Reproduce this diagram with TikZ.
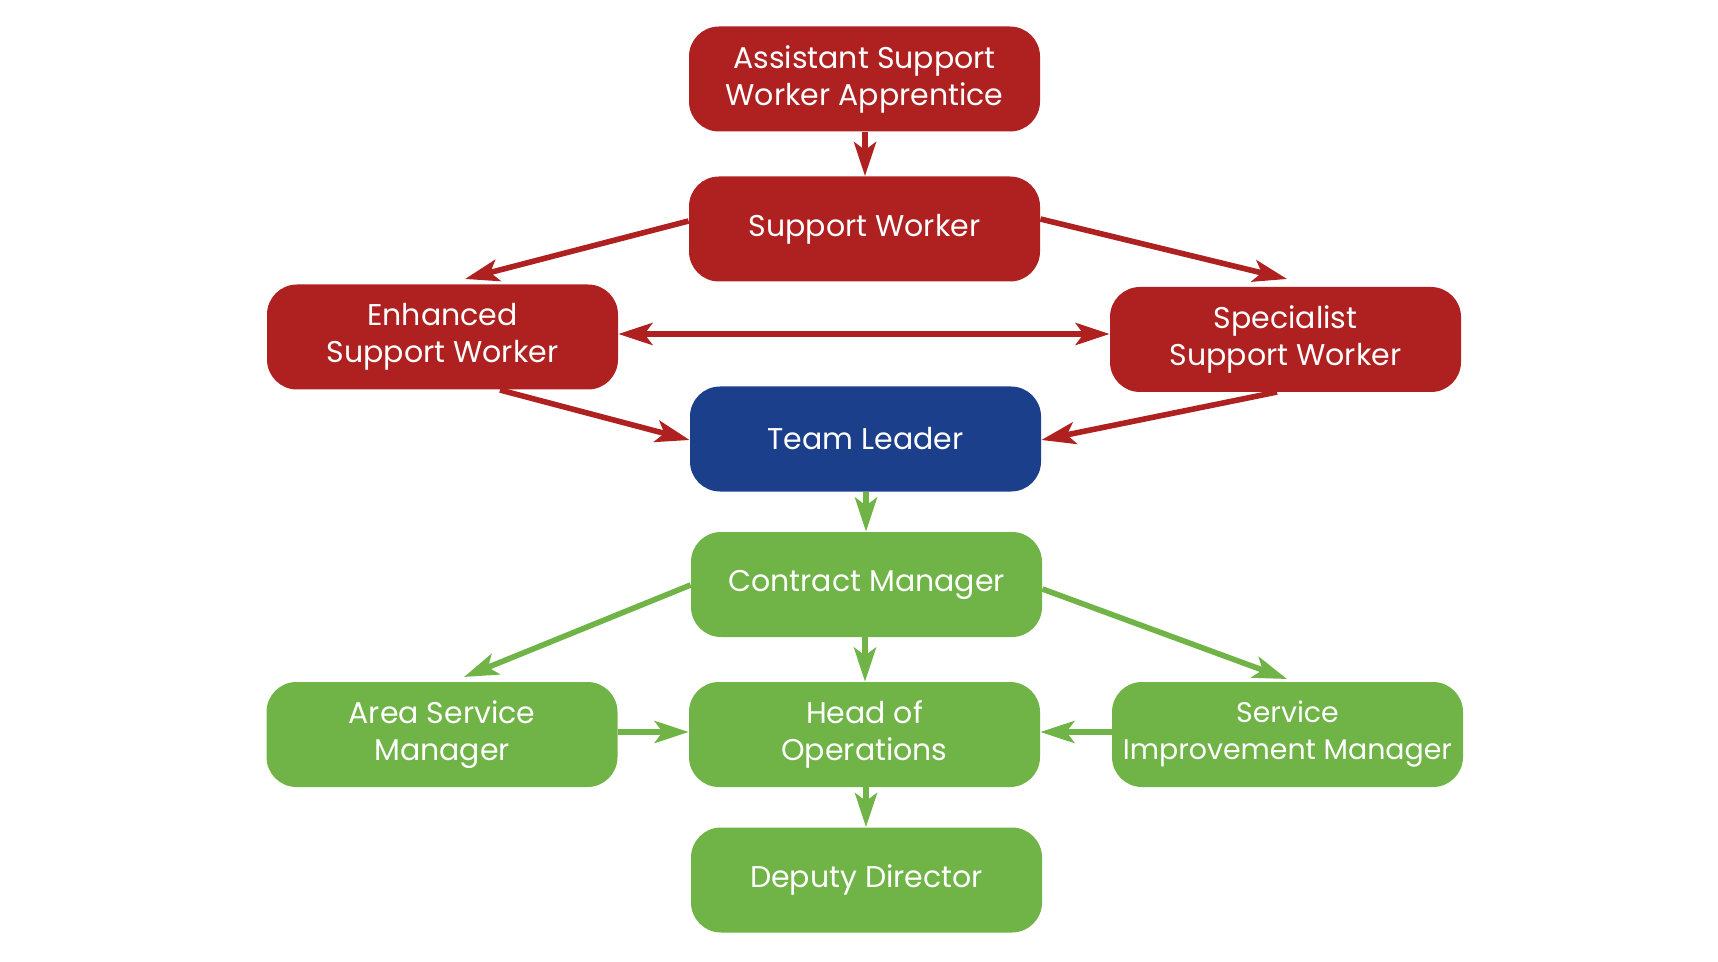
\documentclass[tikz,border=0pt]{standalone}
\usepackage{fontspec}
\setmainfont{Poppins}
\usetikzlibrary{arrows.meta}
\definecolor{cred}{RGB}{175,33,33}
\definecolor{cblue}{RGB}{27,63,139}
\definecolor{cgreen}{RGB}{112,179,71}
\tikzset{
  box/.style={rectangle, rounded corners=15pt, minimum width=175.5pt, minimum height=52.5pt,
    inner sep=0pt, align=center, text=white, font=\fontsize{15}{18.5}\selectfont},
  redbox/.style={box, fill=cred},
  bluebox/.style={box, fill=cblue},
  greenbox/.style={box, fill=cgreen},
  conn/.style={line width=2.8pt, -{Stealth[length=17pt, width=11pt, inset=4pt]}},
  rconn/.style={conn, draw=cred, fill=cred},
  gconn/.style={conn, draw=cgreen, fill=cgreen},
}
\begin{document}
\begin{tikzpicture}[x=0.5pt, y=-0.5pt]
\useasboundingbox (0,0) rectangle (1718,962);
\node[redbox] (aswa) at (864.5,79) {Assistant Support\\Worker Apprentice};
\node[redbox] (sw) at (864.5,229) {Support Worker};
\node[redbox] (esw) at (442.5,337) {Enhanced\\Support Worker};
\node[redbox] (ssw) at (1285.5,339.5) {Specialist\\Support Worker};
\node[bluebox] (tl) at (865.5,439) {Team Leader};
\node[greenbox] (cm) at (866.5,584.5) {Contract Manager};
\node[greenbox] (ho) at (864.5,734.5) {Head of\\Operations};
\node[greenbox] (asm) at (442,734.5) {Area Service\\Manager};
\node[greenbox, font=\fontsize{14.2}{18.5}\selectfont] (sim) at (1287.5,734.5) {Service\\Improvement Manager};
\node[greenbox] (dd) at (866.5,880) {Deputy Director};

\coordinate (eswtop) at (465,279);
\coordinate (sswtop) at (1287,279);
\coordinate (asmtop) at (464,677);
\coordinate (simtop) at (1287,679);

\draw[rconn] (aswa.south -| 865,0) -- (sw.north -| 865,0);
\draw[rconn] (sw.west |- 0,221) -- (eswtop);
\draw[rconn] (sw.east |- 0,219) -- (sswtop);
\draw[draw=cred, line width=2.8pt, {Stealth[length=17pt, width=11pt, inset=4pt]}-{Stealth[length=17pt, width=11pt, inset=4pt]}] (esw.east |- 0,334) -- (ssw.west |- 0,334);
\draw[rconn] (500,390) -- (tl.west |- 0,440);
\draw[rconn] (1277,392) -- (tl.east |- 0,440);

\draw[gconn] (tl.south -| 866,0) -- (cm.north -| 866,0);
\draw[gconn] (cm.west |- 0,585) -- (asmtop);
\draw[gconn] (cm.east |- 0,589) -- (simtop);
\draw[gconn] (cm.south -| 865,0) -- (ho.north -| 865,0);
\draw[gconn] (asm.east |- 0,732) -- (ho.west |- 0,732);
\draw[gconn] (sim.west |- 0,732) -- (ho.east |- 0,732);
\draw[gconn] (ho.south -| 866,0) -- (dd.north -| 866,0);
\end{tikzpicture}
\end{document}
